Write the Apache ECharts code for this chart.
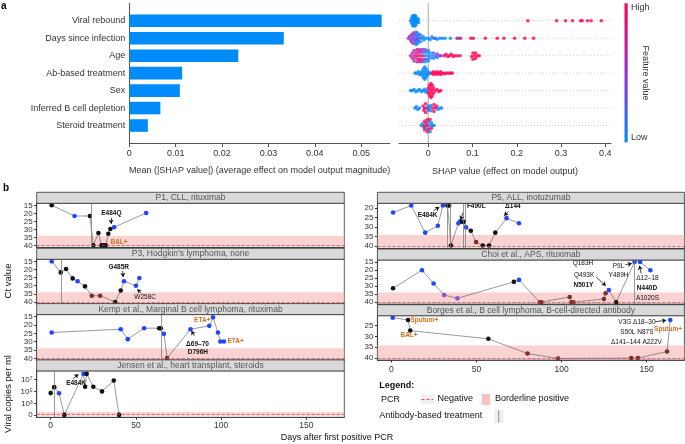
<!DOCTYPE html>
<html><head><meta charset="utf-8">
<script src="https://cdn.jsdelivr.net/npm/echarts@6/dist/echarts.min.js"></script>
<style>html,body{margin:0;padding:0;background:#fff}#c{width:685px;height:444px}</style>
</head><body><div id="c"></div>
<script>
// ---------- Panel a data ----------
const features = ['Viral rebound','Days since infection','Age','Ab-based treatment','Sex','Inferred B cell depletion','Steroid treatment'];
const meanAbsShap = [0.0544,0.0333,0.0235,0.0114,0.0109,0.0067,0.0040];
const barTicks = [0,0.01,0.02,0.03,0.04,0.05];
const shapTicks = [0,0.1,0.2,0.3,0.4];
// beeswarm points: [SHAP value, vertical jitter (row units), feature value 0=low..1=high]
const swarmViral = [[-0.040,0,0],[-0.038,-0.12,0],[-0.038,0.12,0],[-0.036,-0.24,0],[-0.036,0,0],[-0.036,0.24,0],[-0.034,-0.3,0],[-0.034,-0.12,0],[-0.034,0.12,0],[-0.034,0.3,0],[-0.032,-0.24,0],[-0.032,0,0],[-0.032,0.24,0],[-0.030,-0.3,0],[-0.030,-0.12,0],[-0.030,0.12,0],[-0.030,0.3,0],[-0.028,-0.24,0],[-0.028,0,0],[-0.028,0.24,0],[-0.026,-0.12,0],[-0.026,0.12,0],[-0.024,0,0],[-0.022,-0.1,0],[-0.022,0.1,0],
 [0.225,0,1],[0.290,0,1],[0.310,0,1],[0.326,0,1],[0.344,0,1],[0.348,0,1],[0.360,0,1],[0.368,0,1],[0.391,0,1]];
const swarmDays = [[-0.045,0,0.5],[-0.042,-0.1,0.6],[-0.040,0.1,0.55],[-0.038,-0.2,0.5],[-0.038,0.2,0.7],[-0.036,0,0.3],[-0.034,-0.3,0.6],[-0.034,0.3,0.5],[-0.034,-0.1,0.2],[-0.032,0.1,0.4],[-0.030,-0.2,0.6],[-0.030,0.2,0.1],[-0.028,0,0.5],[-0.028,-0.35,0.3],[-0.028,0.35,0.1],[-0.026,-0.15,0.05],[-0.026,0.15,0.4],[-0.024,-0.3,0.1],[-0.024,0.3,0.05],[-0.024,0,0.2],[-0.022,-0.15,0.05],[-0.022,0.15,0.3],[-0.020,0,0.05],[-0.018,-0.2,0.1],[-0.018,0.2,0],[-0.015,0,0.05],[-0.012,-0.1,0.1],[-0.010,0.1,0],[-0.006,0,0],
 [0.000,0,0],[0.004,0.08,0],[0.008,-0.08,0.05],[0.012,0,0],[0.016,0,0.3],[0.020,0.06,0],[0.026,0,0],[0.032,0,0.05],[0.038,0,0],[0.050,0,0],[0.065,0,0.9],[0.068,0,0.1],[0.073,0,1],[0.096,0,1],[0.102,0,1],[0.129,0,1],[0.156,0,1],[0.171,0,1],[0.195,0,1],[0.218,0,1],[0.238,0,1]];
const swarmAge = [[-0.040,0,0.6],[-0.036,-0.15,0.7],[-0.036,0.15,0.8],[-0.032,-0.3,0.5],[-0.032,0,0.9],[-0.032,0.3,0.6],[-0.028,-0.15,0.8],[-0.028,0.15,0.5],[-0.025,-0.35,0.9],[-0.025,0,1],[-0.025,0.35,0.7],[-0.022,-0.2,0.8],[-0.022,0.2,0.9],[-0.019,-0.35,0.6],[-0.019,0,0.9],[-0.019,0.35,1],[-0.016,-0.2,0.7],[-0.016,0.2,0.95],[-0.013,-0.35,0.5],[-0.013,0,0.8],[-0.013,0.35,0.3],[-0.010,-0.2,0.2],[-0.010,0.2,0.6],[-0.007,0,0.1],[-0.007,-0.35,0.4],[-0.007,0.35,0],[-0.004,-0.2,0],[-0.004,0.2,0.2],[0.000,0,0],[0.000,-0.3,0.1],[0.000,0.3,0],[0.004,-0.15,0],[0.004,0.15,0.1],[0.008,0,0],[0.012,-0.15,0.3],[0.012,0.15,0],[0.016,0,0.2],[0.020,-0.1,0.4],[0.020,0.1,0.1],[0.025,0,0.6],[0.029,0,0.4],
 [0.036,0,1],[0.040,-0.08,1],[0.044,0.04,1],[0.048,0,1],[0.052,-0.08,1],[0.056,0.05,1],[0.060,0,1],[0.066,0,1],[0.072,0,1],[0.098,0.05,1],[0.101,-0.15,1],[0.101,0.2,1],[0.104,0,1],[0.107,-0.15,1],[0.107,0.15,1],[0.111,0,1],[0.115,0,1]];
const swarmAb = [[-0.030,0,0],[-0.026,0,0],[-0.022,-0.08,0],[-0.020,0.08,0],[-0.017,0,0],[-0.014,-0.12,0],[-0.014,0.12,0],[-0.011,-0.25,0],[-0.011,0,0],[-0.011,0.25,0],[-0.008,-0.35,0],[-0.008,-0.12,0],[-0.008,0.12,0],[-0.008,0.35,0],[-0.005,-0.25,0],[-0.005,0,0],[-0.005,0.25,0],[-0.002,-0.12,0],[-0.002,0.12,0],[0.001,0,0],[0.004,0,0],
 [0.008,0,1],[0.012,-0.08,1],[0.012,0.08,1],[0.016,0,1],[0.020,-0.08,1],[0.020,0.08,1],[0.024,0,1],[0.028,-0.08,1],[0.028,0.08,1],[0.032,0,1],[0.036,0.04,1],[0.040,0,1],[0.045,0,1],[0.050,0,1],[0.054,0,1]];
const swarmSex = [[-0.040,0,0],[-0.036,0,0],[-0.032,-0.06,0],[-0.028,0.06,0],[-0.024,0,0],[-0.020,-0.06,0],[-0.016,0.06,0],[-0.012,0,0],[-0.008,-0.08,0],[-0.006,0.08,0],[-0.003,0,0],
 [0.000,-0.15,1],[0.000,0.15,1],[0.003,-0.3,1],[0.003,0,1],[0.003,0.3,1],[0.006,-0.4,1],[0.006,-0.15,1],[0.006,0.15,1],[0.006,0.4,1],[0.009,-0.3,1],[0.009,0,1],[0.009,0.3,1],[0.012,-0.15,1],[0.012,0.15,1],[0.016,0,1],[0.020,-0.06,1],[0.024,0.06,1],[0.028,0,1]];
const swarmBcell = [[-0.030,0,0],[-0.027,-0.08,0],[-0.024,0.08,0],[-0.020,0,0],
 [-0.012,-0.12,0.8],[-0.010,0.12,1],[-0.008,0,1],[-0.006,-0.25,1],[-0.006,0.25,0.9],[-0.003,0,1],[0.000,-0.12,0],[0.000,0.12,0.2],[0.003,0,0],[0.006,-0.15,0],[0.006,0.15,0.1],[0.010,0,0.9],[0.013,-0.2,1],[0.013,0.2,1],[0.016,0,1],[0.019,-0.1,1],[0.022,0.08,0],[0.026,0,0],[0.030,0,0]];
const swarmSteroid = [[-0.016,0,0],[-0.013,-0.1,0],[-0.010,0.1,1],[-0.008,-0.25,1],[-0.008,0,0.9],[-0.008,0.25,1],[-0.005,-0.15,1],[-0.005,0.15,0],[-0.002,-0.35,1],[-0.002,0,1],[-0.002,0.35,0.9],[0.001,-0.2,0],[0.001,0.2,1],[0.004,0,0],[0.004,-0.35,1],[0.004,0.35,0],[0.007,-0.15,0],[0.007,0.15,1],[0.010,0,0],[0.013,0,0]];

// ---------- Panel b data ----------
const dayTicks = [0,50,100,150];
const ctTicks = [15,20,25,30,35,40];
const ctTicksP5 = [20,25,30,35,40];
const ctTicksBorges = [25,30,35,40];
const copyTicks = [1.1,3,5,7];               // positions on the pseudo-log scale
const copyTickLabels = ['0','10³','10⁵','10⁷'];
// status codes: k = black, b = blue, n = dark red, v = purple
const p1Days = [0.6,14,23,25,28,29.8,31,32.3,33.8,35,37.2,56];
const p1Ct   = [15,21.7,21.7,40,32.3,40,40,40,32.8,29.8,28.7,19.8];
const p1Status = ['k','b','k','k','k','k','k','k','k','k','b','b'];
const p1Treatment = [24];
const p3Days = [0.6,5.9,9,12.9,15.8,20.1,24.1,29,37.8,41.1,43,50,52];
const p3Ct   = [15,21.8,19.7,25.5,27.3,30.4,36.2,36.2,40,32.9,27.3,30,25.3];
const p3Status = ['b','k','k','k','b','k','n','n','k','k','b','b','b'];
const p3Treatment = [6];
const kempDays = [0.6,41.1,45.2,54.8,63.6,64.6,66.4,68.3,82,93,95.2,98.1,99.5,101.6];
const kempCt   = [24.5,22.5,28.5,21.9,21.9,21.9,25.3,39.8,22.5,20.5,15.4,24.5,29.9,29.9];
const kempStatus = ['b','b','b','b','k','k','b','n','b','b','b','b','b','b'];
const kempTreatment = [65];
const jensenDays = [0,2.1,4.9,8,19.2,20.2,21.1,25,30.1,37,40.1];
const jensenLogCopies = [4.72,5.7,4.7,0,7.9,5.77,7.9,5.77,5.0,6.8,0];   // log10 copies/ml, 0 = negative
const jensenStatus = ['k','k','b','k','b','k','k','k','k','k','k'];
const jensenTreatment = [2];
const p5Days = [1,11.7,19.9,27.3,30.3,33,34,35,39.4,40.4,41.6,42.7,43.9,46.7,49.8,53.7,57.4,61.1,67.7,75];
const p5Ct   = [22.3,18.6,33,29.3,18.6,18.6,18.6,39.8,28,27,27.2,27.2,30.2,32,38,39.8,39.8,33,25.3,28];
const p5Status = ['b','b','b','b','b','k','k','k','b','b','k','k','b','k','n','k','k','k','b','b'];
const p5Treatment = [33,34.5,42,43.3];
const choiDays = [1,18,24.8,31,38.8,72,75,87.2,88.2,104.8,105.8,107,124.9,125.9,127.8,132.1,142.9,146.2,152.2];
const choiCt   = [31.4,20.2,28.4,35.6,37.6,27.4,26.2,40,40,36.8,40,40,38,34.5,32.5,40,15.1,15.1,20.2];
const choiStatus = ['k','b','b','v','v','k','b','n','n','n','n','n','n','n','b','k','b','b','b'];
const choiTreatment = [143];
const borgesDays = [0.8,9.8,11.1,57,80,98,141,144.9,162,163.9];
const borgesCt   = [21.3,22.4,27.3,31.1,37.9,40.2,40,40,37,22.4];
const borgesStatus = ['b','k','k','k','n','n','n','n','n','b'];
const borgesTreatment = [];
// annotations: [day, y, text, style]  style: b bold, n normal, o orange
const p1Notes = [[35.6,19.75,'E484Q','b'],[40.1,38.3,'BAL+','o']];
const p1Arrows = [[35.4,22.9,35.4,26.6]];
const p3Notes = [[39.9,18.5,'G485R','b'],[55.4,37.2,'W258C','n']];
const p3Arrows = [[42.2,21,42.5,24.6],[53.1,34.6,50.8,32.1]];
const kempNotes = [[88.9,17.4,'ETA+','o'],[108.5,29.6,'ETA+','o'],[86.1,31.3,'Δ69–70','b'],[86.3,36.2,'D796H','b']];
const kempArrows = [[84.2,26.4,82.6,23.6]];
const jensenNotes = [[14.9,6.4,'E484K','b']];
const jensenArrows = [[13.1,7.1,16.2,7.85]];
const p5Notes = [[21.3,23.6,'E484K','b'],[49.9,19.2,'F490L','b'],[71.4,19.2,'Δ144','b']];
const p5Arrows = [[24.8,21.3,28.2,19.4],[42,22.5,40.7,26.2],[68.7,21.8,66.3,24]];
const choiNotes = [[112.6,16.1,'Q183H','n'],[113.3,23.3,'Q493K','n'],[112.9,29.4,'N501Y','b'],[133.5,17.6,'P9L','n'],[133.5,23.3,'Y489H','n'],[150.5,25.3,'Δ12–18','n'],[150.2,31.1,'N440D','b'],[150.5,37.6,'A1020S','n']];
const choiArrows = [[120.4,24.5,126,29.8],[137.6,16.8,141.3,16.1],[146.8,22.2,145.8,17.4]];
const borgesNotes = [[19.4,22.4,'Sputum+','o'],[10.4,29.4,'BAL+','o'],[144.3,23.4,'V3G Δ18–30','n'],[162.6,26.5,'Sputum+','o'],[144.3,28,'S50L N87S','n'],[144,32.6,'Δ141–144 A222V','n']];
const borgesArrows = [[154.9,23.2,161.5,22.5]];

// ---------- styling / layout ----------
const FONT = 'Liberation Sans, Arial, Helvetica, sans-serif';
const statusColor = {k:'#111111', b:'#1f45ff', n:'#7a2e2e', v:'#8c55d8'};
const noteStyle = {b:{color:'#111',fontWeight:'bold'}, n:{color:'#111',fontWeight:'normal'}, o:{color:'#d8701e',fontWeight:'bold'}};
const SHAP_BLUE = '#008bfb', SHAP_MID = '#9b2fd6', SHAP_RED = '#ff0052';
const JENSEN_ZERO = 1.1;
const LX = 36.7, LW = 307.6, RX = 377.4, RW = 307;
const XMIN = -8.2, XMAX = 172.2;

const panels = [
 {title:'P1, CLL, rituximab', x:LX, w:LW, top:203.3, h:44, ymin:13.75, ymax:41.25, ticks:ctTicks, days:p1Days, vals:p1Ct, status:p1Status, treat:p1Treatment, notes:p1Notes, arrows:p1Arrows, band:[34,40.5], neg:40.2},
 {title:'P3, Hodgkin\u2019s lymphoma, none', x:LX, w:LW, top:259.3, h:44.7, ymin:13.75, ymax:41.25, ticks:ctTicks, days:p3Days, vals:p3Ct, status:p3Status, treat:p3Treatment, notes:p3Notes, arrows:p3Arrows, band:[34,40.5], neg:40.2},
 {title:'Kemp et al., Marginal B cell lymphoma, rituximab', x:LX, w:LW, top:314.6, h:45.4, ymin:13.75, ymax:41.0, ticks:ctTicks, days:kempDays, vals:kempCt, status:kempStatus, treat:kempTreatment, notes:kempNotes, arrows:kempArrows, band:[34,40.4], neg:40.1},
 {title:'Jensen et al., heart transplant, steroids', x:LX, w:LW, top:370.9, h:46.4, ymin:0.7, ymax:8.4, ticks:copyTicks, tickLabels:copyTickLabels, days:jensenDays, vals:jensenLogCopies.map(v=>v===0?JENSEN_ZERO:v), status:jensenStatus, treat:jensenTreatment, notes:jensenNotes, arrows:jensenArrows, band:[0.95,1.6], neg:1.2, xlab:true, xlabMargin:4},
 {title:'P5, ALL, inotuzumab', x:RX, w:RW, top:203.3, h:45, ymin:17.4, ymax:41.3, ticks:ctTicksP5, days:p5Days, vals:p5Ct, status:p5Status, treat:p5Treatment, notes:p5Notes, arrows:p5Arrows, band:[34.2,40.5], neg:40.2},
 {title:'Choi et al., APS, rituximab', x:RX, w:RW, top:260, h:44, ymin:13.9, ymax:41.1, ticks:ctTicks, days:choiDays, vals:choiCt, status:choiStatus, treat:choiTreatment, notes:choiNotes, arrows:choiArrows, band:[34,40.5], neg:40.2},
 {title:'Borges et al., B cell lymphoma, B-cell-directed antibody', x:RX, w:RW, top:315.7, h:44.3, ymin:20.4, ymax:40.9, ticks:ctTicksBorges, days:borgesDays, vals:borgesCt, status:borgesStatus, treat:borgesTreatment, notes:borgesNotes, arrows:borgesArrows, band:[34.2,40.5], neg:40.2, xlab:true, xlabMargin:5}
];

const chart = echarts.init(document.getElementById('c'), null, {renderer:'canvas', width:685, height:444});

const grids = [], xAxes = [], yAxes = [], series = [], graphics = [];

// ---- Panel a: bar chart ----
grids.push({left:129.3, top:3.3, width:260.7, height:139.7});
xAxes.push({gridIndex:0, type:'value', min:0, max:0.0562, position:'bottom',
  axisLine:{show:true, onZero:false, lineStyle:{color:'#555', width:1}},
  axisTick:{show:true, customValues:barTicks, length:4, lineStyle:{color:'#555'}},
  axisLabel:{customValues:barTicks, fontSize:9, color:'#333', fontFamily:FONT, margin:6, formatter:v=>String(v), hideOverlap:false},
  splitLine:{show:false}});
yAxes.push({gridIndex:0, type:'value', min:-1, max:7, inverse:true,
  axisLine:{show:true, onZero:false, lineStyle:{color:'#555', width:1}}, axisTick:{show:false},
  axisLabel:{customValues:[0,1,2,3,4,5,6], formatter:v=>features[v], fontSize:9, color:'#333', fontFamily:FONT, margin:4, hideOverlap:false, showMinLabel:true, showMaxLabel:true},
  splitLine:{show:false}});
series.push({type:'custom', xAxisIndex:0, yAxisIndex:0, data:meanAbsShap.map((v,i)=>[v,i]),
  renderItem:function(params, api){
    const v = api.value(0), r = api.value(1);
    const p0 = api.coord([0, r]), p1 = api.coord([v, r]);
    const h = api.size([0, 0.72])[1];
    return {type:'rect', shape:{x:p0[0], y:p0[1]-h/2, width:p1[0]-p0[0], height:h}, style:{fill:SHAP_BLUE}};
  }});

// ---- Panel a: beeswarm ----
const swarmRows = [swarmViral, swarmDays, swarmAge, swarmAb, swarmSex, swarmBcell, swarmSteroid];
const swarmData = [];
swarmRows.forEach((row, r) => row.forEach(p => swarmData.push([p[0], r + p[1], p[2]])));
grids.push({left:399, top:3.3, width:212, height:139.7});
xAxes.push({gridIndex:1, type:'value', min:-0.0662, max:0.4129,
  axisLine:{show:true, onZero:false, lineStyle:{color:'#555', width:1}},
  axisTick:{show:true, customValues:shapTicks, length:4, lineStyle:{color:'#555'}},
  axisLabel:{customValues:shapTicks, fontSize:9, color:'#333', fontFamily:FONT, margin:6, formatter:v=>String(v), hideOverlap:false},
  splitLine:{show:false}});
yAxes.push({gridIndex:1, type:'value', min:-1, max:7, inverse:true, show:false, axisLine:{onZero:false}});
series.push({type:'scatter', xAxisIndex:1, yAxisIndex:1, data:swarmData, symbolSize:3.6, z:3, silent:true});
// row guide lines and zero line of the beeswarm
series.push({type:'custom', xAxisIndex:1, yAxisIndex:1, z:1, silent:true,
  data:features.map((f,i)=>[0,i]),
  renderItem:function(params, api){
    const cs = params.coordSys;
    const y = api.coord([0, api.value(1)])[1];
    return {type:'line', shape:{x1:cs.x, y1:y, x2:cs.x+cs.width, y2:y}, style:{stroke:'#c8c8c8', lineWidth:0.8, lineDash:[1,2]}};
  }});
series.push({type:'custom', xAxisIndex:1, yAxisIndex:1, z:2, silent:true,
  data:[[0]],
  renderItem:function(params, api){
    const cs = params.coordSys;
    const x = api.coord([api.value(0), 0])[0];
    return {type:'line', shape:{x1:x, y1:cs.y, x2:x, y2:cs.y+cs.height}, style:{stroke:'#bdbdbd', lineWidth:1.3}};
  }});

// ---- Panel b ----
panels.forEach((p, k) => {
  const gi = grids.length;
  grids.push({left:p.x, top:p.top, width:p.w, height:p.h, show:true, borderColor:'#333', borderWidth:0.8, backgroundColor:'#fff'});
  xAxes.push({gridIndex:gi, type:'value', min:XMIN, max:XMAX,
    axisLine:{show:true, onZero:false, lineStyle:{color:'#333', width:0.8}},
    axisTick:{show:!!p.xlab, customValues:dayTicks, length:2.5, lineStyle:{color:'#333'}},
    axisLabel:{show:!!p.xlab, customValues:dayTicks, fontSize:8.5, color:'#333', fontFamily:FONT, margin:p.xlabMargin||4, hideOverlap:false},
    splitLine:{show:false}});
  yAxes.push({gridIndex:gi, type:'value', min:p.ymin, max:p.ymax, inverse:!p.tickLabels,
    axisLine:{show:true, onZero:false, lineStyle:{color:'#333', width:0.8}},
    axisTick:{show:true, customValues:p.ticks, length:2.5, lineStyle:{color:'#333'}},
    axisLabel:{customValues:p.ticks, fontSize:8, color:'#333', fontFamily:FONT, margin:4, lineHeight:8,
      hideOverlap:false, showMinLabel:true, showMaxLabel:true,
      formatter: v => p.tickLabels ? p.tickLabels[p.ticks.indexOf(v)] : String(v)},
    splitLine:{show:false}});
  // background band + negative line + treatment lines
  series.push({type:'line', xAxisIndex:gi, yAxisIndex:gi, data:[], z:1, silent:true,
    markArea:{silent:true, itemStyle:{color:'rgba(247,180,180,0.6)'}, data:[[{yAxis:p.band[0]},{yAxis:p.band[1]}]]},
    markLine:{silent:true, symbol:'none', label:{show:false}, animation:false,
      data:[{yAxis:p.neg, lineStyle:{color:'#e2474f', width:0.8, type:[3,2]}}].concat(
        p.treat.map(t=>({xAxis:t, lineStyle:{color:'#808080', width:0.8, type:'solid'}})))}});
  // connecting line
  series.push({type:'line', xAxisIndex:gi, yAxisIndex:gi, data:p.days.map((d,i)=>[d,p.vals[i]]),
    symbol:'none', z:2, lineStyle:{color:'#555', width:0.6}, silent:true});
  // points + annotations
  series.push({type:'scatter', xAxisIndex:gi, yAxisIndex:gi, z:3, silent:true,
    data:p.days.map((d,i)=>[d,p.vals[i],p.status[i]]), symbolSize:4.6,
    itemStyle:{color: params => statusColor[params.data[2]], opacity:1},
    markPoint:{silent:true, symbol:'rect', symbolSize:1, itemStyle:{color:'rgba(0,0,0,0)'}, animation:false,
      data:p.notes.map(n=>({coord:[n[0],n[1]], name:n[2],
        label:{show:true, position:'inside', formatter:'{b}', fontSize:6.5, fontFamily:FONT,
          color:noteStyle[n[3]].color, fontWeight:noteStyle[n[3]].fontWeight}}))},
    markLine:{silent:true, symbol:['none','arrow'], symbolSize:4, label:{show:false}, animation:false,
      lineStyle:{color:'#111', width:0.8, type:'solid'},
      data:p.arrows.map(a=>[{coord:[a[0],a[1]]},{coord:[a[2],a[3]]}])}});
  // strip
  graphics.push({type:'rect', shape:{x:p.x, y:p.top-11, width:p.w, height:11}, style:{fill:'#d9d9d9', stroke:'#333', lineWidth:0.8}, z:10});
  graphics.push({type:'text', x:p.x+p.w/2, y:p.top-5.3, style:{text:p.title, fill:'#555', font:'8.5px '+FONT, textAlign:'center', textVerticalAlign:'middle'}, z:11});
});

// ---- decorations / titles ----
graphics.push(
  {type:'text', x:1, y:1, style:{text:'a', font:'bold 10px '+FONT, fill:'#000'}},
  {type:'text', x:3, y:183, style:{text:'b', font:'bold 10px '+FONT, fill:'#000'}},
  {type:'text', x:259.6, y:171, style:{text:'Mean (|SHAP value|) (average effect on model output magnitude)', font:'9px '+FONT, fill:'#333', textAlign:'center', textVerticalAlign:'middle'}},
  {type:'text', x:505, y:171.5, style:{text:'SHAP value (effect on model output)', font:'9px '+FONT, fill:'#333', textAlign:'center', textVerticalAlign:'middle'}},
  {type:'rect', shape:{x:624.5, y:3.3, width:3.2, height:139}, style:{fill:new echarts.graphic.LinearGradient(0,0,0,1,[{offset:0,color:SHAP_RED},{offset:0.5,color:SHAP_MID},{offset:1,color:SHAP_BLUE}])}},
  {type:'text', x:631, y:8, style:{text:'High', font:'9px '+FONT, fill:'#333', textVerticalAlign:'middle'}},
  {type:'text', x:631, y:138, style:{text:'Low', font:'9px '+FONT, fill:'#333', textVerticalAlign:'middle'}},
  {type:'text', x:645, y:73, rotation:-Math.PI/2, style:{text:'Feature value', font:'9px '+FONT, fill:'#333', textAlign:'center', textVerticalAlign:'middle'}},
  {type:'text', x:8, y:281, rotation:Math.PI/2, style:{text:'Ct value', font:'9.5px '+FONT, fill:'#111', textAlign:'center', textVerticalAlign:'middle'}},
  {type:'text', x:8, y:394, rotation:Math.PI/2, style:{text:'Viral copies per ml', font:'9.5px '+FONT, fill:'#111', textAlign:'center', textVerticalAlign:'middle'}},
  {type:'text', x:337, y:438, style:{text:'Days after first positive PCR', font:'9px '+FONT, fill:'#111', textAlign:'center', textVerticalAlign:'middle'}},
  // legend
  {type:'text', x:379.3, y:386, style:{text:'Legend:', font:'bold 9px '+FONT, fill:'#111', textVerticalAlign:'middle'}},
  {type:'text', x:381, y:399.5, style:{text:'PCR', font:'9px '+FONT, fill:'#111', textVerticalAlign:'middle'}},
  {type:'rect', shape:{x:421, y:394.5, width:13, height:10}, style:{fill:'#f0f0f0'}},
  {type:'line', shape:{x1:421.5, y1:399.5, x2:433.5, y2:399.5}, style:{stroke:'#e2474f', lineWidth:0.9, lineDash:[3,2]}},
  {type:'text', x:437.5, y:399, style:{text:'Negative', font:'9px '+FONT, fill:'#111', textVerticalAlign:'middle'}},
  {type:'rect', shape:{x:481.7, y:394, width:8.5, height:11}, style:{fill:'#f7c4c4'}},
  {type:'text', x:495, y:399, style:{text:'Borderline positive', font:'9px '+FONT, fill:'#111', textVerticalAlign:'middle'}},
  {type:'text', x:379.3, y:416, style:{text:'Antibody-based treatment', font:'9px '+FONT, fill:'#111', textVerticalAlign:'middle'}},
  {type:'rect', shape:{x:494, y:410, width:9.5, height:13}, style:{fill:'#f0f0f0'}},
  {type:'line', shape:{x1:498.7, y1:410.5, x2:498.7, y2:422.5}, style:{stroke:'#808080', lineWidth:0.9}}
);

chart.setOption({
  animation:false,
  textStyle:{fontFamily:FONT},
  grid:grids, xAxis:xAxes, yAxis:yAxes, series:series,
  visualMap:[{type:'continuous', show:false, seriesIndex:1, dimension:2, min:0, max:1,
    inRange:{color:[SHAP_BLUE, SHAP_MID, SHAP_RED]}}],
  graphic:{elements:graphics}
});
</script></body></html>
